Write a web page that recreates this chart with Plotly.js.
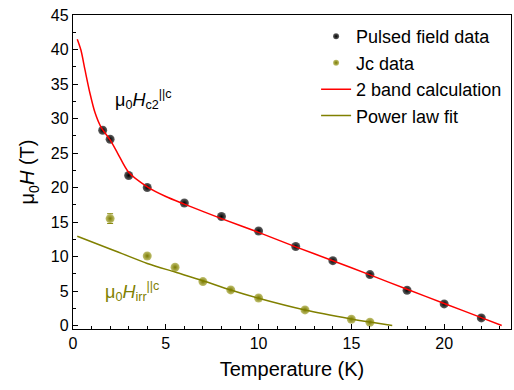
<!DOCTYPE html>
<html>
<head>
<meta charset="utf-8">
<script src="https://cdn.plot.ly/plotly-3.0.1.min.js"></script>
<style>html,body{margin:0;padding:0;background:#fff;}#chart{width:514px;height:390px;}</style>
</head>
<body>
<div id="chart"></div>
<script>
// Pulsed field data (black spheres)
const pulsedT = [1.6, 2.0, 3.0, 4.0, 6.0, 8.0, 10.0, 12.0, 14.0, 16.0, 18.0, 20.0, 22.0];
const pulsedH = [28.3, 27.0, 21.75, 20.0, 17.75, 15.8, 13.7, 11.45, 9.4, 7.38, 5.11, 3.14, 1.11];

// Jc data (olive spheres)
const jcT = [2.0, 4.0, 5.5, 7.0, 8.5, 10.0, 12.5, 15.0, 16.0];
const jcH = [15.5, 10.08, 8.44, 6.37, 5.16, 4.0, 2.27, 0.92, 0.48];
const jcErr = [0.7, 0, 0, 0, 0, 0, 0, 0, 0];

// 2 band calculation (red line)
const calcT = [0.23, 0.43, 0.65, 0.91, 1.18, 1.5, 2.0, 2.4, 3.0, 4.0, 5.0, 6.0, 8.0, 10.0, 12.0, 14.0, 16.0, 18.0, 20.0, 22.0, 23.1];
const calcH = [41.5, 39.9, 37.0, 33.7, 30.9, 28.8, 26.9, 25.0, 22.2, 20.1, 18.7, 17.6, 15.5, 13.5, 11.4, 9.4, 7.35, 5.25, 3.2, 1.15, 0.0];

// Power law fit (olive line)
const fitT = [0.23, 2.0, 4.0, 5.5, 7.0, 8.5, 10.0, 12.5, 15.0, 16.0, 17.2];
const fitH = [12.93, 11.1, 9.0, 7.75, 6.5, 5.15, 3.95, 2.25, 0.95, 0.5, 0.0];

const names = ["Pulsed field data", "Jc data", "2 band calculation", "Power law fit"];

const FONT = '"Liberation Sans", Arial, sans-serif';
const OLIVE = "#808000";

const pulsedMarker = {color: "#606060", gradient: {type: "radial", color: "#000000"}, line: {width: 0}};
const jcMarker = {color: "#c0c070", gradient: {type: "radial", color: "#7a7a00"}, line: {width: 0}};

const traces = [
  {x: pulsedT, y: pulsedH, name: names[0], mode: "markers", type: "scatter", showlegend: false,
   marker: Object.assign({size: 9}, pulsedMarker)},
  {x: jcT, y: jcH, name: names[1], mode: "markers", type: "scatter", showlegend: false,
   error_y: {type: "data", array: jcErr, visible: true, color: OLIVE, thickness: 1, width: 3},
   marker: Object.assign({size: 9}, jcMarker)},
  {x: calcT, y: calcH, name: names[2], mode: "lines", type: "scatter", showlegend: false,
   line: {color: "#ff0000", width: 1.5, shape: "spline", smoothing: 0.8}},
  {x: fitT, y: fitH, name: names[3], mode: "lines", type: "scatter", showlegend: false,
   line: {color: OLIVE, width: 1.5, shape: "spline", smoothing: 0.8}},
  // legend entries (smaller legend symbols as in the reference)
  {x: [null], y: [null], name: names[0], mode: "markers", type: "scatter", marker: Object.assign({size: 6}, pulsedMarker)},
  {x: [null], y: [null], name: names[1], mode: "markers", type: "scatter", marker: Object.assign({size: 6}, jcMarker)},
  {x: [null], y: [null], name: names[2], mode: "lines", type: "scatter", line: {color: "#ff0000", width: 1.5}},
  {x: [null], y: [null], name: names[3], mode: "lines", type: "scatter", line: {color: OLIVE, width: 1.5}}
];

const layout = {
  width: 514, height: 390,
  margin: {l: 73, r: 3, t: 15, b: 61},
  paper_bgcolor: "#fff", plot_bgcolor: "#fff",
  font: {family: FONT, size: 16, color: "#000"},
  showlegend: true,
  legend: {x: 0.555, y: 0.99, xanchor: "left", yanchor: "top", bgcolor: "rgba(0,0,0,0)",
           font: {family: FONT, size: 18, color: "#000"}, tracegroupgap: 0},
  xaxis: {
    range: [0, 23.6], tickmode: "linear", tick0: 0, dtick: 5,
    ticks: "inside", ticklen: 5, tickwidth: 1, tickcolor: "#000",
    minor: {dtick: 1, ticks: "inside", ticklen: 3, tickcolor: "#000", showgrid: false},
    showline: true, linecolor: "#000", linewidth: 1.2, mirror: true,
    showgrid: false, zeroline: false,
    tickfont: {family: FONT, size: 16},
    title: {text: "Temperature (K)", font: {family: FONT, size: 20}, standoff: 10}
  },
  yaxis: {
    range: [-0.5, 45], tickmode: "linear", tick0: 0, dtick: 5,
    ticks: "inside", ticklen: 5, tickwidth: 1, tickcolor: "#000",
    minor: {dtick: 2.5, ticks: "inside", ticklen: 3, tickcolor: "#000", showgrid: false},
    showline: true, linecolor: "#000", linewidth: 1.2, mirror: true,
    showgrid: false, zeroline: false,
    tickfont: {family: FONT, size: 16},
    title: {text: "μ<sub>0</sub><i>H</i> (T)", font: {family: FONT, size: 20}, standoff: 10}
  },
  annotations: [
    {x: 2.15, y: 32.7, xref: "x", yref: "y", xanchor: "left", yanchor: "middle", showarrow: false,
     text: "μ<sub>0</sub><i>H</i><sub>c2</sub><sup>||c</sup>", font: {family: FONT, size: 18, color: "#000"}},
    {x: 1.6, y: 4.9, xref: "x", yref: "y", xanchor: "left", yanchor: "middle", showarrow: false,
     text: "μ<sub>0</sub><i>H</i><sub>irr</sub><sup>||c</sup>", font: {family: FONT, size: 18, color: OLIVE}}
  ]
};

Plotly.newPlot("chart", traces, layout, {displayModeBar: false, staticPlot: true});
</script>
</body>
</html>
